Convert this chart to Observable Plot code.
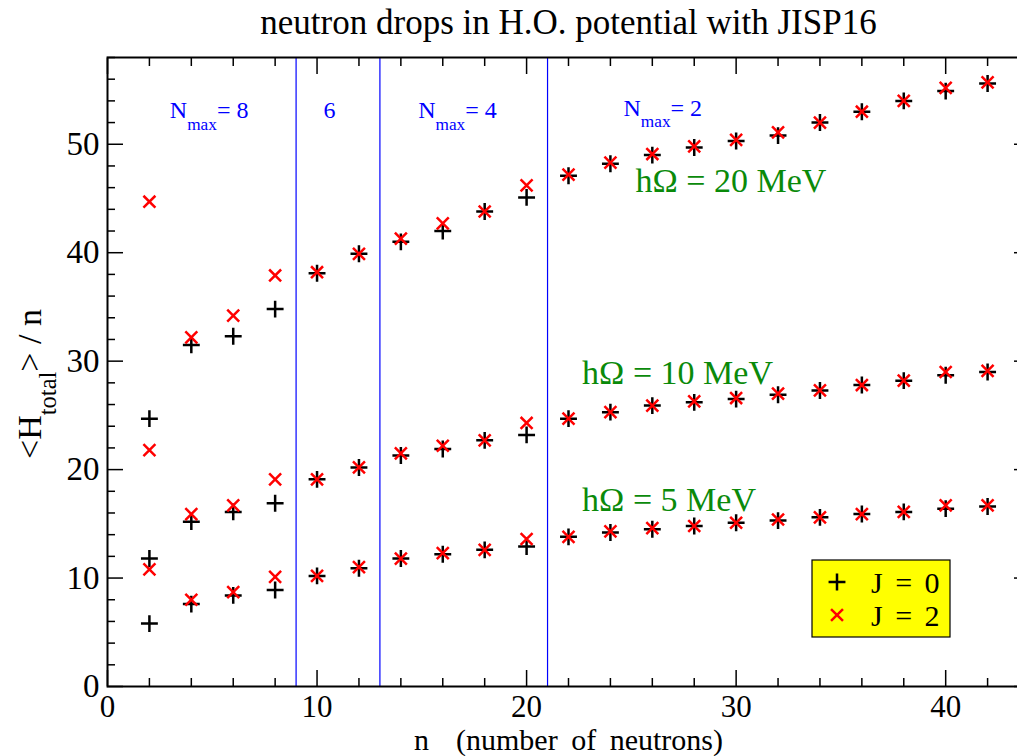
<!DOCTYPE html>
<html>
<head>
<meta charset="utf-8">
<script src="https://cdn.jsdelivr.net/npm/d3@7"></script>
<script src="https://cdn.jsdelivr.net/npm/@observablehq/plot@0.6"></script>
<style>
  html, body { margin: 0; padding: 0; background: #fff; overflow: hidden; }
</style>
</head>
<body>
<div id="chart"></div>
<script>
// Number of neutrons in the drop
const neutrons = [2, 4, 6, 8, 10, 12, 14, 16, 18, 20, 22, 24, 26, 28, 30, 32, 34, 36, 38, 40, 42];

// <H_total>/n for hΩ = 20 MeV
const j0_hw20 = [24.7, 31.5, 32.3, 34.8, 38.1, 39.9, 41.0, 42.0, 43.8, 45.1, 47.1, 48.2, 49.0, 49.7, 50.3, 50.8, 52.0, 53.0, 54.0, 54.9, 55.6];
const j2_hw20 = [44.7, 32.2, 34.2, 37.9, 38.2, 39.9, 41.3, 42.7, 43.8, 46.2, 47.2, 48.3, 49.1, 49.8, 50.4, 51.1, 52.0, 53.0, 54.0, 55.2, 55.7];

// <H_total>/n for hΩ = 10 MeV
const j0_hw10 = [11.8, 15.2, 16.1, 16.9, 19.1, 20.2, 21.3, 21.9, 22.7, 23.2, 24.7, 25.3, 25.9, 26.2, 26.5, 26.9, 27.3, 27.8, 28.2, 28.7, 29.0];
const j2_hw10 = [21.8, 15.9, 16.7, 19.1, 19.1, 20.2, 21.5, 22.2, 22.7, 24.3, 24.7, 25.3, 25.9, 26.3, 26.6, 27.0, 27.3, 27.8, 28.2, 29.0, 29.1];

// <H_total>/n for hΩ = 5 MeV
const j0_hw5 = [5.8, 7.6, 8.4, 8.9, 10.2, 10.9, 11.8, 12.2, 12.6, 12.9, 13.8, 14.2, 14.5, 14.8, 15.1, 15.3, 15.6, 15.9, 16.1, 16.4, 16.6];
const j2_hw5 = [10.8, 8.0, 8.7, 10.1, 10.2, 11.0, 11.8, 12.3, 12.6, 13.6, 13.8, 14.3, 14.6, 14.8, 15.1, 15.4, 15.6, 15.9, 16.1, 16.7, 16.7];

// Boundaries between model-space truncations
const nmaxBoundaries = [9, 13, 21];
const nmaxLabels = ["N_{max}= 8", "6", "N_{max}= 4", "N_{max}= 2"];
const nmaxLabelX = [4.85, 10.6, 16.7, 26.5];
const nmaxLabelY = [52.4, 52.4, 52.4, 52.6];

// Oscillator-energy annotations
const hwLabels = ["hΩ = 20 MeV", "hΩ = 10 MeV", "hΩ = 5 MeV"];
const hwLabelX = [25.2, 22.65, 22.65];
const hwLabelY = [45.6, 27.9, 16.2];

// Axes
const xTicks = [0, 10, 20, 30, 40];
const yTicks = [0, 10, 20, 30, 40, 50];
const xMinor = d3.range(0, 45, 2).filter(v => v % 10 !== 0);
const yMinor = d3.range(0, 59, 2).filter(v => v % 10 !== 0);

const title = "neutron drops in H.O. potential with JISP16";
const xLabel = "n  (number of neutrons)";
const yLabel = "<H_{total}> / n";
const legendLabels = ["J = 0", "J = 2"];

const FONT = "'Liberation Serif', 'Times New Roman', Times, serif";
const RED = "#ff0000";
const BLUE = "#0000ff";
const GREEN = "#0a8a0a";

const toRows = (vals) => vals.map((e, i) => ({n: neutrons[i], e}));
const jZero = [...toRows(j0_hw20), ...toRows(j0_hw10), ...toRows(j0_hw5)];
const jTwo = [...toRows(j2_hw20), ...toRows(j2_hw10), ...toRows(j2_hw5)];

const tickOnly = {stroke: "black", strokeWidth: 1.5, tickFormat: () => "", label: null};
const MAJOR = 16, MINOR = 8;
const markR = 5.5;

const chart = Plot.plot({
  width: 1017,
  height: 756,
  marginTop: 57,
  marginLeft: 107,
  marginBottom: 70,
  marginRight: -12,
  style: {fontFamily: FONT, background: "white", color: "black"},
  x: {domain: [0, 44]},
  y: {domain: [0, 58]},
  marks: [
    Plot.ruleX(nmaxBoundaries, {stroke: BLUE, strokeWidth: 1.2}),
    // ticks on all four sides, pointing into the frame
    Plot.axisX(xMinor, {anchor: "bottom", tickSize: MINOR, dy: -MINOR, ...tickOnly}),
    Plot.axisX(xTicks, {anchor: "bottom", tickSize: MAJOR, dy: -MAJOR, ...tickOnly}),
    Plot.axisX(xMinor, {anchor: "top", tickSize: MINOR, dy: MINOR, ...tickOnly}),
    Plot.axisX(xTicks, {anchor: "top", tickSize: MAJOR, dy: MAJOR, ...tickOnly}),
    Plot.axisY(yMinor, {anchor: "left", tickSize: MINOR, dx: MINOR, ...tickOnly}),
    Plot.axisY(yTicks, {anchor: "left", tickSize: MAJOR, dx: MAJOR, ...tickOnly}),
    Plot.axisY(yMinor, {anchor: "right", tickSize: MINOR, dx: -MINOR, ...tickOnly}),
    Plot.axisY(yTicks, {anchor: "right", tickSize: MAJOR, dx: -MAJOR, ...tickOnly}),
    // tick labels
    Plot.axisX(xTicks, {anchor: "bottom", tickSize: 0, tickPadding: 8, fontSize: 31, label: null}),
    Plot.axisY(yTicks, {anchor: "left", tickSize: 0, tickPadding: 8, fontSize: 33, label: null}),
    Plot.frame({stroke: "black", strokeWidth: 2}),
    // data
    Plot.dot(jZero, {x: "n", y: "e", symbol: "plus", r: markR, stroke: "black", strokeWidth: 2.5}),
    Plot.dot(jTwo, {x: "n", y: "e", symbol: "times", r: markR, stroke: RED, strokeWidth: 2.5}),
    // annotations
    Plot.text(nmaxLabels, {x: (d, i) => nmaxLabelX[i], y: (d, i) => nmaxLabelY[i], text: d => d,
      fill: BLUE, fontSize: 24, lineAnchor: "bottom", textAnchor: "middle"}),
    Plot.text(hwLabels, {x: (d, i) => hwLabelX[i], y: (d, i) => hwLabelY[i], text: d => d,
      fill: GREEN, fontSize: 34, lineAnchor: "bottom", textAnchor: "start"}),
    // titles
    Plot.text([title], {frameAnchor: "top", dy: -24, lineAnchor: "bottom", textAnchor: "middle", fontSize: 35}),
    Plot.text([xLabel], {frameAnchor: "bottom", dy: 63, lineAnchor: "bottom", textAnchor: "middle", fontSize: 30}),
    Plot.text([yLabel], {frameAnchor: "left", rotate: -90, dx: -67, dy: 12, lineAnchor: "bottom", textAnchor: "middle", fontSize: 34})
  ]
});

const svg = d3.select(chart.tagName.toLowerCase() === "svg" ? chart : chart.querySelector("svg"));

svg.selectAll("text").each(function () {
  const node = this;
  const s = node.textContent;
  // looser word spacing on the axis title
  if (s === xLabel) node.setAttribute("word-spacing", 6);
  // turn "_{...}" sequences into lowered, smaller tspans
  if (!s.includes("_{")) return;
  const g = node.closest("g[font-size]");
  const base = g ? parseFloat(g.getAttribute("font-size")) : 32;
  const shift = base * 0.47;
  const parts = s.split(/_\{([^}]*)\}/);
  node.textContent = "";
  let lowered = false;
  parts.forEach((p, k) => {
    const t = d3.select(node).append("tspan").text(p);
    if (k % 2 === 1) {
      t.attr("font-size", base * 0.72).attr("dy", shift);
      lowered = true;
    } else if (lowered) {
      t.attr("dy", -shift);
      lowered = false;
    }
  });
});

// Legend box
const legend = svg.append("g").attr("font-family", FONT).attr("text-anchor", "start");
legend.append("rect")
  .attr("x", 812).attr("y", 560).attr("width", 138).attr("height", 77)
  .attr("fill", "#ffff00").attr("stroke", "black").attr("stroke-width", 1.2);
const symSize = markR * markR * Math.PI;
[[d3.symbolPlus, "black"], [d3.symbolTimes, RED]].forEach(([sym, col], i) => {
  const cy = 582 + i * 33;
  legend.append("path")
    .attr("d", d3.symbol(sym, symSize)())
    .attr("transform", `translate(837,${cy})`)
    .attr("fill", "none").attr("stroke", col).attr("stroke-width", 2.5);
  legend.append("text")
    .attr("x", 871).attr("y", cy + 11)
    .attr("font-size", 30).attr("word-spacing", 5).attr("fill", "black")
    .text(legendLabels[i]);
});

document.getElementById("chart").append(chart);
</script>
</body>
</html>
